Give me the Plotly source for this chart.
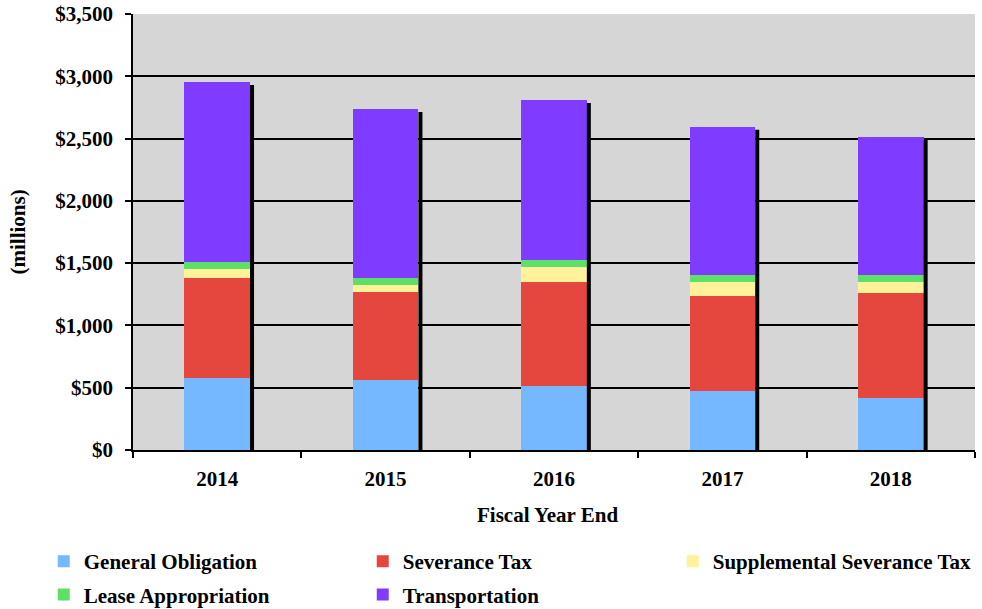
import plotly.graph_objects as go

years = ['2014', '2015', '2016', '2017', '2018']
general_obligation = [576, 560, 516, 471, 415]
severance_tax = [807, 706, 836, 768, 848]
supplemental_severance = [70, 59, 115, 113, 89]
lease_appropriation = [59, 56, 59, 56, 56]
transportation = [1443, 1357, 1284, 1186, 1105]

series = [
    ('General Obligation', general_obligation, '#75B8FF', 'legend'),
    ('Severance Tax', severance_tax, '#E5473F', 'legend'),
    ('Supplemental Severance Tax', supplemental_severance, '#FFF29A', 'legend3'),
    ('Lease Appropriation', lease_appropriation, '#5CE068', 'legend2'),
    ('Transportation', transportation, '#7F3BFF', 'legend2'),
]

font = 'Liberation Serif, Times New Roman, serif'
fsize = 21
bar_w = 0.39
txt = dict(family=font, size=fsize, color='black', weight='bold')

fig = go.Figure()
for name, vals, col, leg in series:
    fig.add_trace(go.Bar(x=years, y=vals, name=name, width=bar_w, legend=leg,
                         marker=dict(color=col, line=dict(width=0))))

# black drop shadow on the right of each stacked bar
totals = [sum(v) for v in zip(*[s[1] for s in series])]
for i, t in enumerate(totals):
    fig.add_shape(type='rect', xref='x', yref='y', xsizemode='pixel',
                  xanchor=i + bar_w / 2, x0=0, x1=4, y0=0, y1=t - 24,
                  fillcolor='black', line=dict(width=0), layer='above')

# axis titles placed as annotations
fig.add_annotation(text='(millions)', xref='paper', yref='paper', x=-0.136, y=0.5,
                   xanchor='center', yanchor='middle',
                   textangle=-90, showarrow=False, font=txt)
fig.add_annotation(text='Fiscal Year End', xref='paper', yref='paper', x=0.492, y=-0.149,
                   xanchor='center', yanchor='middle', showarrow=False, font=txt)

leg_common = dict(orientation='h', xanchor='left', yanchor='top',
                  entrywidth=274, entrywidthmode='pixels', traceorder='normal',
                  font=txt, bgcolor='rgba(0,0,0,0)')

fig.update_layout(
    width=982, height=609,
    margin=dict(l=133, r=7, t=14, b=159, autoexpand=False),
    barmode='stack',
    template='none',
    paper_bgcolor='white',
    plot_bgcolor='#D6D6D6',
    font=txt,
    showlegend=True,
    legend=dict(x=-0.106, y=-0.209, **leg_common),
    legend2=dict(x=-0.106, y=-0.285, **leg_common),
    legend3=dict(orientation='h', xanchor='left', yanchor='top', x=0.641, y=-0.209,
                 font=txt, bgcolor='rgba(0,0,0,0)'),
)
fig.update_xaxes(
    type='category', automargin=False,
    showline=True, linecolor='black', linewidth=1.5,
    ticks='outside', tickson='boundaries', ticklen=6, tickcolor='black', tickwidth=1.5,
    showgrid=False, ticklabelstandoff=9,
    tickfont=txt,
)
fig.update_yaxes(
    automargin=False,
    range=[0, 3500], dtick=500, tickprefix='$', tickformat=',',
    showline=True, linecolor='black', linewidth=1.5,
    ticks='outside', ticklen=6, tickcolor='black', tickwidth=1.5,
    showgrid=True, gridcolor='black', gridwidth=1.5,
    zeroline=False, ticklabelstandoff=8, ticklabeloverflow='allow',
    tickfont=txt,
)

# drop the page's default body margin so the figure sits at the window origin
fig.write_html('out.html', config={'displayModeBar': False},
               post_script="document.body.style.margin='0';")
